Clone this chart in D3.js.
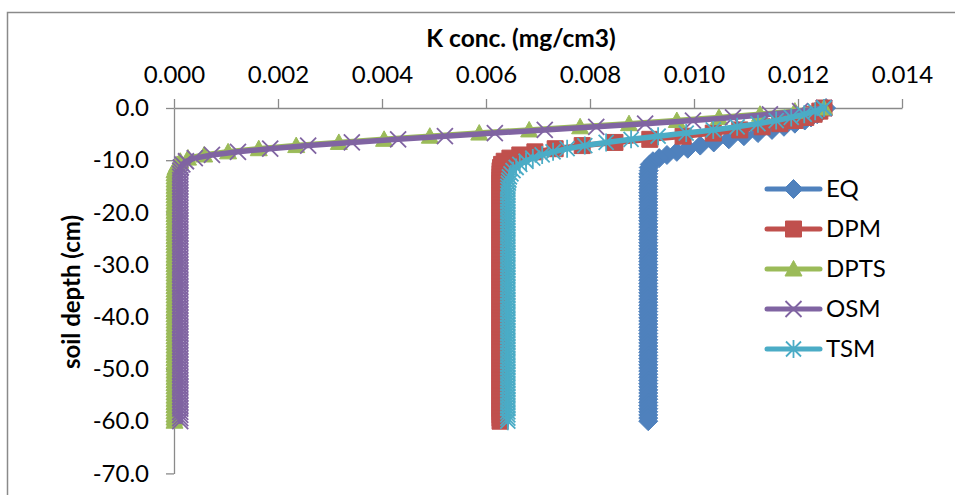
<!DOCTYPE html>
<html>
<head>
<meta charset="utf-8">
<script src="https://cdn.jsdelivr.net/npm/d3@7"></script>
<style>
  body { margin: 0; background: #fff; }
  svg text { font-family: Lato, "Open Sans", sans-serif; fill: #000; }
</style>
</head>
<body>
<div id="chart"></div>
<script>
// soil depth of each node (cm)
var depth = [
  0, -0.6, -1.2, -1.8, -2.4, -3, -3.6, -4.2, -4.8, -5.4,
  -6, -6.6, -7.2, -7.8, -8.4, -9, -9.6, -10.2, -10.8, -11.4,
  -12, -12.6, -13.2, -13.8, -14.4, -15, -15.6, -16.2, -16.8, -17.4,
  -18, -18.6, -19.2, -19.8, -20.4, -21, -21.6, -22.2, -22.8, -23.4,
  -24, -24.6, -25.2, -25.8, -26.4, -27, -27.6, -28.2, -28.8, -29.4,
  -30, -30.6, -31.2, -31.8, -32.4, -33, -33.6, -34.2, -34.8, -35.4,
  -36, -36.6, -37.2, -37.8, -38.4, -39, -39.6, -40.2, -40.8, -41.4,
  -42, -42.6, -43.2, -43.8, -44.4, -45, -45.6, -46.2, -46.8, -47.4,
  -48, -48.6, -49.2, -49.8, -50.4, -51, -51.6, -52.2, -52.8, -53.4,
  -54, -54.6, -55.2, -55.8, -56.4, -57, -57.6, -58.2, -58.8, -59.4,
  -60
];

// K concentration (mg/cm3) for each model
var eqConc = [
  0.01254, 0.01246, 0.01237, 0.01225, 0.01213, 0.01194, 0.01173, 0.01150, 0.01123, 0.01096,
  0.01067, 0.01038, 0.01012, 0.00988, 0.00967, 0.00948, 0.00933, 0.00921, 0.00915, 0.00913,
  0.00913, 0.00912, 0.00912, 0.00912, 0.00912, 0.00912, 0.00912, 0.00912, 0.00912, 0.00912,
  0.00912, 0.00912, 0.00912, 0.00912, 0.00912, 0.00912, 0.00912, 0.00912, 0.00912, 0.00912,
  0.00912, 0.00912, 0.00912, 0.00912, 0.00912, 0.00912, 0.00912, 0.00912, 0.00912, 0.00912,
  0.00912, 0.00912, 0.00912, 0.00912, 0.00912, 0.00912, 0.00912, 0.00912, 0.00912, 0.00912,
  0.00912, 0.00912, 0.00912, 0.00912, 0.00912, 0.00912, 0.00912, 0.00912, 0.00912, 0.00912,
  0.00912, 0.00912, 0.00912, 0.00912, 0.00912, 0.00912, 0.00912, 0.00912, 0.00912, 0.00912,
  0.00912, 0.00912, 0.00912, 0.00912, 0.00912, 0.00912, 0.00912, 0.00912, 0.00912, 0.00912,
  0.00912, 0.00912, 0.00912, 0.00912, 0.00912, 0.00912, 0.00912, 0.00912, 0.00912, 0.00912,
  0.00912
];
var dpmConc = [
  0.01250, 0.01242, 0.01231, 0.01215, 0.01194, 0.01165, 0.01131, 0.01088, 0.01037, 0.00979,
  0.00915, 0.00848, 0.00785, 0.00733, 0.00694, 0.00665, 0.00646, 0.00635, 0.00630, 0.00628,
  0.00627, 0.00627, 0.00627, 0.00627, 0.00627, 0.00627, 0.00627, 0.00627, 0.00627, 0.00627,
  0.00627, 0.00627, 0.00627, 0.00627, 0.00627, 0.00627, 0.00627, 0.00627, 0.00627, 0.00627,
  0.00627, 0.00627, 0.00627, 0.00627, 0.00627, 0.00627, 0.00627, 0.00627, 0.00627, 0.00627,
  0.00627, 0.00627, 0.00627, 0.00627, 0.00627, 0.00627, 0.00627, 0.00627, 0.00627, 0.00627,
  0.00627, 0.00627, 0.00627, 0.00627, 0.00627, 0.00627, 0.00627, 0.00627, 0.00627, 0.00627,
  0.00627, 0.00627, 0.00627, 0.00627, 0.00627, 0.00627, 0.00627, 0.00627, 0.00627, 0.00627,
  0.00627, 0.00627, 0.00627, 0.00627, 0.00627, 0.00627, 0.00627, 0.00627, 0.00627, 0.00627,
  0.00627, 0.00627, 0.00627, 0.00627, 0.00627, 0.00627, 0.00627, 0.00627, 0.00627, 0.00627,
  0.00627
];
var dptsConc = [
  0.01250, 0.01194, 0.01127, 0.01048, 0.00967, 0.00875, 0.00781, 0.00683, 0.00587, 0.00492,
  0.00404, 0.00317, 0.00235, 0.00163, 0.00104, 0.00058, 0.00027, 0.00012, 0.00006, 0.00003,
  0.00001, 0.00001, 0.00001, 0.00001, 0.00001, 0.00001, 0.00001, 0.00001, 0.00001, 0.00001,
  0.00001, 0.00001, 0.00001, 0.00001, 0.00001, 0.00001, 0.00001, 0.00001, 0.00001, 0.00001,
  0.00001, 0.00001, 0.00001, 0.00001, 0.00001, 0.00001, 0.00001, 0.00001, 0.00001, 0.00001,
  0.00001, 0.00001, 0.00001, 0.00001, 0.00001, 0.00001, 0.00001, 0.00001, 0.00001, 0.00001,
  0.00001, 0.00001, 0.00001, 0.00001, 0.00001, 0.00001, 0.00001, 0.00001, 0.00001, 0.00001,
  0.00001, 0.00001, 0.00001, 0.00001, 0.00001, 0.00001, 0.00001, 0.00001, 0.00001, 0.00001,
  0.00001, 0.00001, 0.00001, 0.00001, 0.00001, 0.00001, 0.00001, 0.00001, 0.00001, 0.00001,
  0.00001, 0.00001, 0.00001, 0.00001, 0.00001, 0.00001, 0.00001, 0.00001, 0.00001, 0.00001,
  0.00001
];
var osmConc = [
  0.01250, 0.01204, 0.01146, 0.01075, 0.00998, 0.00906, 0.00812, 0.00713, 0.00617, 0.00521,
  0.00431, 0.00342, 0.00258, 0.00185, 0.00123, 0.00073, 0.00040, 0.00023, 0.00016, 0.00013,
  0.00012, 0.00012, 0.00012, 0.00012, 0.00012, 0.00012, 0.00012, 0.00012, 0.00012, 0.00012,
  0.00012, 0.00012, 0.00012, 0.00012, 0.00012, 0.00012, 0.00012, 0.00012, 0.00012, 0.00012,
  0.00012, 0.00012, 0.00012, 0.00012, 0.00012, 0.00012, 0.00012, 0.00012, 0.00012, 0.00012,
  0.00012, 0.00012, 0.00012, 0.00012, 0.00012, 0.00012, 0.00012, 0.00012, 0.00012, 0.00012,
  0.00012, 0.00012, 0.00012, 0.00012, 0.00012, 0.00012, 0.00012, 0.00012, 0.00012, 0.00012,
  0.00012, 0.00012, 0.00012, 0.00012, 0.00012, 0.00012, 0.00012, 0.00012, 0.00012, 0.00012,
  0.00012, 0.00012, 0.00012, 0.00012, 0.00012, 0.00012, 0.00012, 0.00012, 0.00012, 0.00012,
  0.00012, 0.00012, 0.00012, 0.00012, 0.00012, 0.00012, 0.00012, 0.00012, 0.00012, 0.00012,
  0.00012
];
var tsmConc = [
  0.01250, 0.01233, 0.01212, 0.01187, 0.01158, 0.01123, 0.01083, 0.01037, 0.00985, 0.00931,
  0.00879, 0.00831, 0.00790, 0.00756, 0.00729, 0.00708, 0.00690, 0.00677, 0.00665, 0.00658,
  0.00652, 0.00648, 0.00645, 0.00644, 0.00643, 0.00642, 0.00642, 0.00642, 0.00642, 0.00642,
  0.00642, 0.00642, 0.00642, 0.00642, 0.00642, 0.00642, 0.00642, 0.00642, 0.00642, 0.00642,
  0.00642, 0.00642, 0.00642, 0.00642, 0.00642, 0.00642, 0.00642, 0.00642, 0.00642, 0.00642,
  0.00642, 0.00642, 0.00642, 0.00642, 0.00642, 0.00642, 0.00642, 0.00642, 0.00642, 0.00642,
  0.00642, 0.00642, 0.00642, 0.00642, 0.00642, 0.00642, 0.00642, 0.00642, 0.00642, 0.00642,
  0.00642, 0.00642, 0.00642, 0.00642, 0.00642, 0.00642, 0.00642, 0.00642, 0.00642, 0.00642,
  0.00642, 0.00642, 0.00642, 0.00642, 0.00642, 0.00642, 0.00642, 0.00642, 0.00642, 0.00642,
  0.00642, 0.00642, 0.00642, 0.00642, 0.00642, 0.00642, 0.00642, 0.00642, 0.00642, 0.00642,
  0.00642
];

var seriesNames = ["EQ", "DPM", "DPTS", "OSM", "TSM"];
var xTicks = [0, 0.002, 0.004, 0.006, 0.008, 0.010, 0.012, 0.014];
var yTicks = [0, -10, -20, -30, -40, -50, -60, -70];

// svg size
var svgWidth = 955;
var svgHeight = 495;

var svg = d3.select("#chart")
  .append("svg")
  .attr("width", svgWidth)
  .attr("height", svgHeight);

// outer chart frame (right/bottom edges fall outside the picture)
svg.append("rect")
  .attr("x", 7.5)
  .attr("y", 12.5)
  .attr("width", 1000)
  .attr("height", 1000)
  .attr("fill", "none")
  .attr("stroke", "#8a8a8a")
  .attr("stroke-width", 1.5);

var xScale = d3.scaleLinear().domain([0, 0.014]).range([174, 902]);
var yScale = d3.scaleLinear().domain([-70, 0]).range([473.4, 108]);

// axes
var topAxis = d3.axisTop(xScale)
  .tickValues(xTicks)
  .tickSize(9)
  .tickSizeOuter(0)
  .tickPadding(16)
  .tickFormat(d => d.toFixed(3));

var leftAxis = d3.axisLeft(yScale)
  .tickValues(yTicks)
  .tickSize(8)
  .tickSizeOuter(0)
  .tickPadding(17)
  .tickFormat(d => d.toFixed(1));

var xAxisG = svg.append("g")
  .attr("transform", `translate(0, ${yScale(0)})`)
  .call(topAxis);

var yAxisG = svg.append("g")
  .attr("transform", `translate(${xScale(0)}, 0)`)
  .call(leftAxis);

[xAxisG, yAxisG].forEach(function(g) {
  g.select(".domain").attr("stroke", "#8a8a8a").attr("stroke-width", 1.3);
  g.selectAll(".tick line").attr("stroke", "#8a8a8a").attr("stroke-width", 1.3);
  g.selectAll(".tick text")
    .attr("fill", "#000")
    .style("font-size", "24px")
    .style("font-family", "Lato, sans-serif");
});

// axis titles
svg.append("text")
  .attr("x", 521)
  .attr("y", 47)
  .attr("text-anchor", "middle")
  .style("font-size", "24.5px")
  .style("font-weight", "bold")
  .text("K conc. (mg/cm3)");

svg.append("text")
  .attr("transform", "translate(80, 292) rotate(-90)")
  .attr("text-anchor", "middle")
  .style("font-size", "24px")
  .style("font-weight", "bold")
  .text("soil depth (cm)");

// series setup
var colors = ["#4F81BD", "#C0504D", "#9BBB59", "#8064A2", "#4BACC6"];
var concs = [eqConc, dpmConc, dptsConc, osmConc, tsmConc];
var shapes = ["diamond", "square", "triangle", "cross", "star"];

var markerPaths = {
  diamond: "M0,-9.5L9.5,0L0,9.5L-9.5,0Z",
  square: "M-8,-8H8V8H-8Z",
  triangle: "M0,-8.5L8.5,7L-8.5,7Z",
  cross: "M-8,-8L8,8M-8,8L8,-8",
  star: "M-7.5,-7.5L7.5,7.5M-7.5,7.5L7.5,-7.5M0,-9V9"
};

function styleMarker(sel, shape, color) {
  sel.attr("d", markerPaths[shape]);
  if (shape == "cross" || shape == "star") {
    sel.attr("fill", "none").attr("stroke", color).attr("stroke-width", 1.8);
  } else {
    sel.attr("fill", color).attr("stroke", color).attr("stroke-width", 1);
  }
}

var line = d3.line()
  .x(d => xScale(d.conc))
  .y(d => yScale(d.depth));

var plot = svg.append("g");

seriesNames.forEach(function(name, i) {
  var data = depth.map(function(dp, j) {
    return { depth: dp, conc: concs[i][j] };
  });

  var g = plot.append("g").attr("class", "series-" + name);

  g.append("path")
    .datum(data)
    .attr("fill", "none")
    .attr("stroke", colors[i])
    .attr("stroke-width", 5.5)
    .attr("stroke-linejoin", "round")
    .attr("stroke-linecap", "round")
    .attr("d", line);

  g.selectAll("path.mk")
    .data(data)
    .enter()
    .append("path")
    .attr("class", "mk")
    .attr("transform", d => `translate(${xScale(d.conc)}, ${yScale(d.depth)})`)
    .call(styleMarker, shapes[i], colors[i]);
});

// legend
var legend = svg.append("g");
seriesNames.forEach(function(name, i) {
  var ly = 189 + i * 40;
  legend.append("line")
    .attr("x1", 767)
    .attr("x2", 820)
    .attr("y1", ly)
    .attr("y2", ly)
    .attr("stroke", colors[i])
    .attr("stroke-width", 5)
    .attr("stroke-linecap", "round");
  legend.append("path")
    .attr("transform", `translate(793.5, ${ly})`)
    .call(styleMarker, shapes[i], colors[i]);
  legend.append("text")
    .attr("x", 826)
    .attr("y", ly)
    .attr("dy", "0.35em")
    .style("font-size", "24px")
    .text(name);
});
</script>
</body>
</html>
